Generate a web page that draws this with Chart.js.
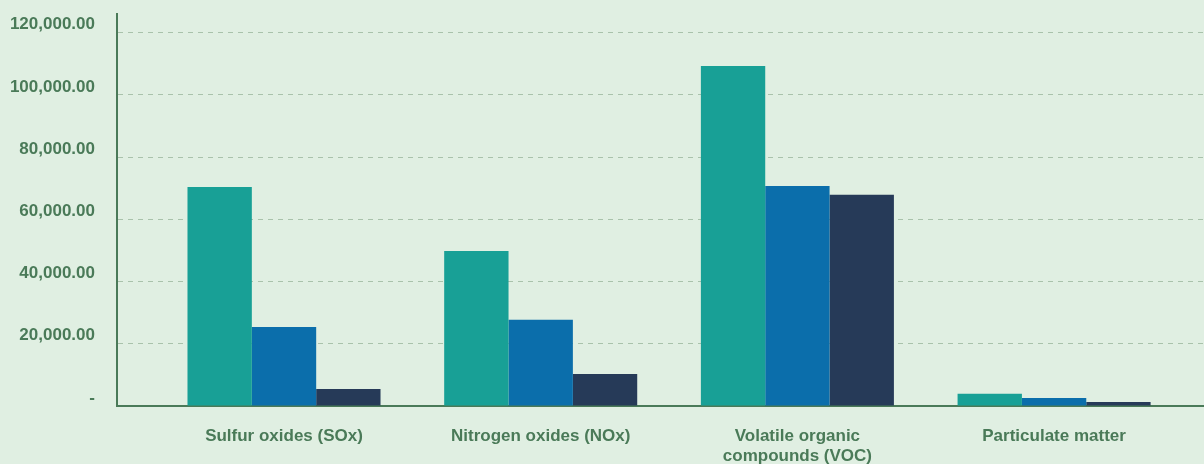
<!DOCTYPE html>
<html>
<head>
<meta charset="utf-8">
<title>Emissions by pollutant</title>
<script src="https://cdn.jsdelivr.net/npm/chart.js@4/dist/chart.umd.min.js"></script>
<style>
    html, body { margin: 0; padding: 0; background: #e0efe2; }
    #wrap { width: 1204px; height: 464px; position: relative; }
</style>
</head>
<body>
<div id="wrap"><canvas id="emissions"></canvas></div>
<script>
// categories (multi-line labels as arrays)
const categories = [
    'Sulfur oxides (SOx)',
    'Nitrogen oxides (NOx)',
    ['Volatile organic', 'compounds (VOC)'],
    'Particulate matter'
];

// three series, values
const series1 = [70400, 49800, 109300, 3900];
const series2 = [25400, 27700, 70700, 2600];
const series3 = [5500, 10300, 67900, 1300];

const yTicks = [0, 20000, 40000, 60000, 80000, 100000, 120000];

const colors = ['#18a096', '#0b6eab', '#263a58'];
const green = '#4a7a58';

// bars placed on a numeric x axis so the group centres line up with the picture
const toPoints = arr => arr.map((v, i) => ({ x: i, y: v }));

const Chart = window.Chart;
Chart.defaults.font.family = '"Liberation Sans", Arial, sans-serif';
Chart.defaults.font.size = 17;
Chart.defaults.font.weight = 'bold';
Chart.defaults.color = green;

const ctx = document.getElementById('emissions').getContext('2d');
new Chart(ctx, {
    type: 'bar',
    data: {
        datasets: [series1, series2, series3].map((s, i) => ({
            data: toPoints(s),
            backgroundColor: colors[i],
            borderWidth: 0,
            categoryPercentage: 0.752,
            barPercentage: 1.0
        }))
    },
    options: {
        responsive: true,
        maintainAspectRatio: false,
        animation: false,
        layout: { padding: { top: 14, right: 0, left: 0, bottom: 0 } },
        plugins: {
            legend: { display: false },
            tooltip: { enabled: false }
        },
        scales: {
            x: {
                type: 'linear',
                offset: false,
                min: -0.6506,
                max: 3.584,
                z: 1,
                afterBuildTicks: scale => {
                    scale.ticks = categories.map((c, i) => ({ value: i }));
                },
                afterFit: scale => {
                    scale.height = 58;
                    scale.paddingLeft = 0;
                    scale.paddingRight = 0;
                },
                grid: { display: false, drawTicks: false },
                border: { display: true, color: green, width: 2 },
                ticks: {
                    padding: 20,
                    maxRotation: 0,
                    autoSkip: false,
                    callback: v => categories[v]
                }
            },
            y: {
                min: 0,
                max: 126000,
                afterBuildTicks: scale => {
                    scale.ticks = yTicks.map(v => ({ value: v }));
                },
                afterFit: scale => {
                    scale.width = 117;
                    scale.paddingTop = 0;
                    scale.paddingBottom = 0;
                },
                grid: {
                    color: '#a9c2ab',
                    lineWidth: 1,
                    drawTicks: false
                },
                border: { display: true, color: green, width: 2, dash: [5, 5] },
                ticks: {
                    padding: 22,
                    labelOffset: -8,
                    callback: v => v === 0 ? '-' : v.toLocaleString('en-US', { minimumFractionDigits: 2, maximumFractionDigits: 2 })
                }
            }
        }
    }
});
</script>
</body>
</html>
